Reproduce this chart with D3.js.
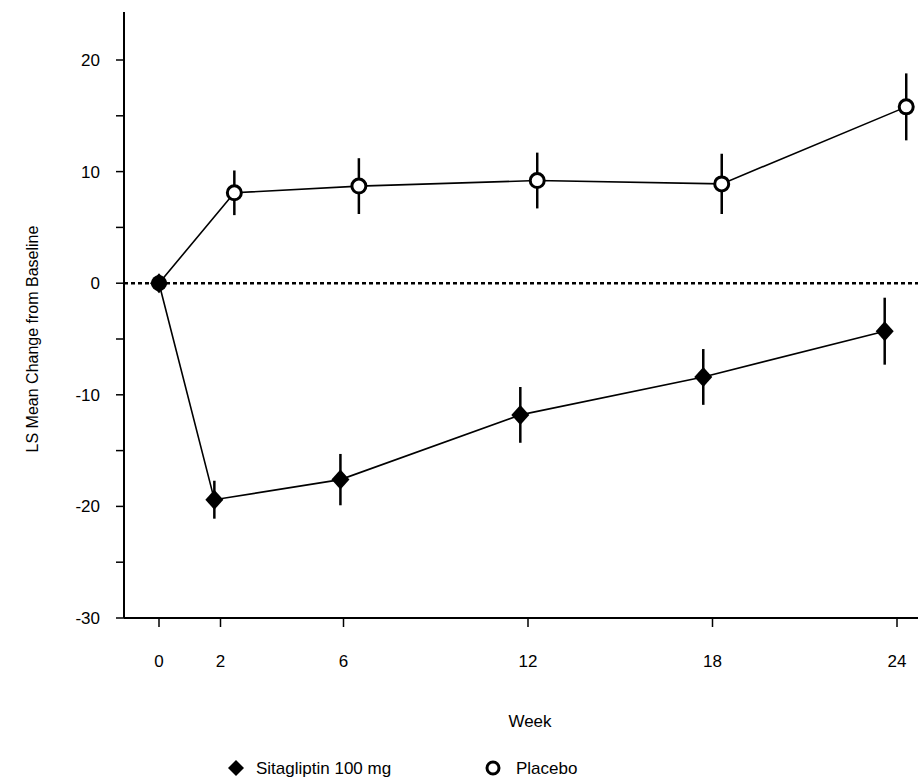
<!DOCTYPE html>
<html><head><meta charset="utf-8">
<script src="https://cdn.jsdelivr.net/npm/d3@7.9.0/dist/d3.min.js"></script>
<style>body{margin:0;background:#fff}svg{font-family:Arial,"Liberation Sans",sans-serif}</style>
</head><body><svg id="c" width="918" height="780"></svg>
<script>
const weekTicks = [0, 2, 6, 12, 18, 24];
const yTicks = [-30, -20, -10, 0, 10, 20];
const sitaWeek = [0, 1.8, 5.9, 11.75, 17.7, 23.6];
const sitaMean = [0, -19.4, -17.6, -11.8, -8.4, -4.3];
const sitaErr = [0, 1.7, 2.3, 2.5, 2.5, 3.0];
const placWeek = [0, 2.45, 6.5, 12.3, 18.3, 24.3];
const placMean = [0, 8.1, 8.7, 9.2, 8.9, 15.8];
const placErr = [0, 2.0, 2.5, 2.5, 2.7, 3.0];

const svg = d3.select('#c');
const x = d3.scaleLinear().domain([0, 24]).range([159, 897]);
const y = d3.scaleLinear().domain([-30, 20]).range([618, 60]);

// axes
svg.append('line').attr('x1', 124).attr('x2', 124).attr('y1', 12).attr('y2', 618).attr('stroke', '#000').attr('stroke-width', 2);
svg.append('line').attr('x1', 124).attr('x2', 918).attr('y1', 618).attr('y2', 618).attr('stroke', '#000').attr('stroke-width', 2);
d3.range(-30, 25, 5).forEach(v => {
  svg.append('line').attr('x1', 116).attr('x2', 124).attr('y1', y(v)).attr('y2', y(v)).attr('stroke', '#000').attr('stroke-width', 1.5);
});
yTicks.forEach(v => {
  svg.append('text').attr('x', 100).attr('y', y(v) + 6).attr('text-anchor', 'end').attr('font-size', 17).text(v);
});
weekTicks.forEach(v => {
  svg.append('line').attr('x1', x(v)).attr('x2', x(v)).attr('y1', 618).attr('y2', 627).attr('stroke', '#000').attr('stroke-width', 1.5);
  svg.append('text').attr('x', x(v)).attr('y', 667).attr('text-anchor', 'middle').attr('font-size', 17).text(v);
});
svg.append('text').attr('x', 530).attr('y', 727).attr('text-anchor', 'middle').attr('font-size', 17).text('Week');
svg.append('text').attr('transform', 'translate(38,' + y(-5) + ') rotate(-90)').attr('text-anchor', 'middle').attr('font-size', 16).text('LS Mean Change from Baseline');

// reference line
svg.append('line').attr('x1', 124).attr('x2', 918).attr('y1', y(0)).attr('y2', y(0)).attr('stroke', '#000').attr('stroke-width', 2.5).attr('stroke-dasharray', '4,3');

function series(wk, mean, err, open) {
  const pts = wk.map((w, i) => ({ w, m: mean[i], e: err[i] }));
  svg.append('path').datum(pts).attr('fill', 'none').attr('stroke', '#000').attr('stroke-width', 1.6)
    .attr('d', d3.line().x(d => x(d.w)).y(d => y(d.m)));
  pts.forEach((d, i) => {
    if (i > 0) svg.append('line').attr('x1', x(d.w)).attr('x2', x(d.w)).attr('y1', y(d.m + d.e)).attr('y2', y(d.m - d.e)).attr('stroke', '#000').attr('stroke-width', 2.5);
    if (open && i > 0) {
      svg.append('circle').attr('cx', x(d.w)).attr('cy', y(d.m)).attr('r', 7).attr('fill', '#fff').attr('stroke', '#000').attr('stroke-width', 3);
    } else if (open) {
      svg.append('circle').attr('cx', x(d.w)).attr('cy', y(d.m)).attr('r', 8).attr('fill', '#000');
    } else {
      svg.append('path').attr('transform', `translate(${x(d.w)},${y(d.m)})`).attr('d', 'M0,-10L9,0L0,10L-9,0Z').attr('fill', '#000');
    }
  });
}
series(placWeek, placMean, placErr, true);
series(sitaWeek, sitaMean, sitaErr, false);

// legend
svg.append('path').attr('transform', 'translate(236,768)').attr('d', 'M0,-8L8,0L0,8L-8,0Z').attr('fill', '#000');
svg.append('text').attr('x', 256).attr('y', 774).attr('font-size', 17).text('Sitagliptin 100 mg');
svg.append('circle').attr('cx', 493).attr('cy', 768).attr('r', 6).attr('fill', '#fff').attr('stroke', '#000').attr('stroke-width', 3);
svg.append('text').attr('x', 516).attr('y', 774).attr('font-size', 17).text('Placebo');
</script></body></html>
